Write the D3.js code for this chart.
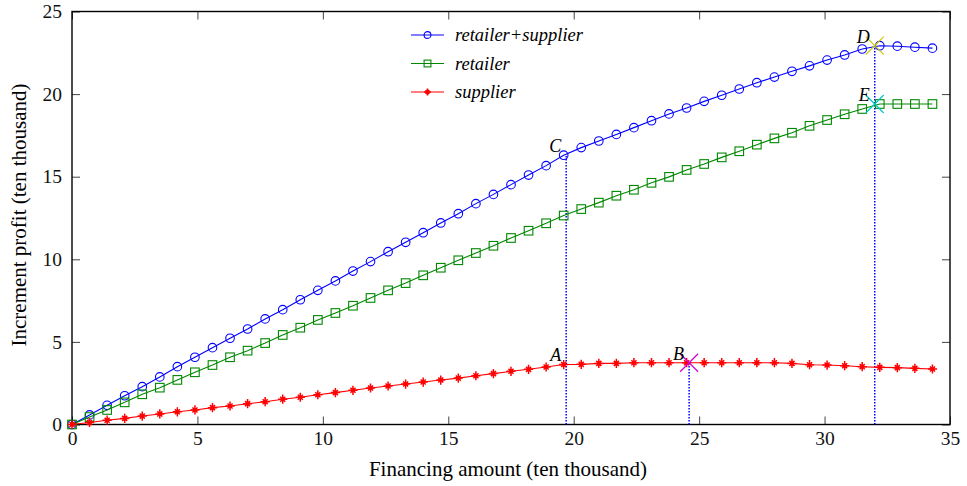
<!DOCTYPE html>
<html>
<head>
<meta charset="utf-8">
<script src="https://cdn.jsdelivr.net/npm/d3@7"></script>
<style>
body { margin: 0; background: #fff; }
text { font-family: "Liberation Serif", "Times New Roman", serif; }
</style>
</head>
<body>
<div id="chart"></div>
<script>
var width = 967,
    height = 486;

// financing amount (ten thousand)
var amount = [0, 0.7, 1.4, 2.1, 2.8, 3.5, 4.2, 4.9, 5.6, 6.3, 7.0, 7.7, 8.4, 9.1, 9.8,
    10.5, 11.2, 11.9, 12.6, 13.3, 14.0, 14.7, 15.4, 16.1, 16.8, 17.5, 18.2, 18.9, 19.6,
    20.3, 21.0, 21.7, 22.4, 23.1, 23.8, 24.5, 25.2, 25.9, 26.6, 27.3, 28.0, 28.7, 29.4,
    30.1, 30.8, 31.5, 32.2, 32.9, 33.6, 34.3];

var both = [0, 0.58, 1.16, 1.74, 2.29, 2.88, 3.50, 4.07, 4.65, 5.22, 5.78, 6.39, 6.95, 7.55, 8.12,
    8.69, 9.29, 9.86, 10.46, 11.03, 11.61, 12.20, 12.76, 13.37, 13.93, 14.52, 15.10, 15.67, 16.30,
    16.76, 17.16, 17.56, 17.97, 18.39, 18.80, 19.16, 19.56, 19.93, 20.31, 20.69, 21.03, 21.38, 21.71,
    22.06, 22.37, 22.73, 22.93, 22.90, 22.84, 22.78];

var retailer = [0, 0.45, 0.88, 1.34, 1.83, 2.23, 2.70, 3.16, 3.60, 4.07, 4.47, 4.93, 5.42, 5.86, 6.33,
    6.75, 7.19, 7.66, 8.12, 8.56, 9.03, 9.49, 9.94, 10.38, 10.82, 11.29, 11.73, 12.18, 12.65,
    13.04, 13.43, 13.85, 14.21, 14.63, 14.99, 15.41, 15.77, 16.17, 16.54, 16.94, 17.32, 17.66, 18.08,
    18.43, 18.78, 19.10, 19.40, 19.40, 19.40, 19.40];

var supplier = [0, 0.12, 0.26, 0.37, 0.51, 0.64, 0.77, 0.88, 1.02, 1.12, 1.26, 1.38, 1.53, 1.65, 1.80,
    1.93, 2.07, 2.21, 2.33, 2.45, 2.57, 2.69, 2.81, 2.95, 3.08, 3.22, 3.34, 3.48, 3.63,
    3.64, 3.70, 3.70, 3.74, 3.74, 3.74, 3.74, 3.74, 3.74, 3.74, 3.74, 3.74, 3.70, 3.62,
    3.60, 3.56, 3.50, 3.46, 3.44, 3.40, 3.36];

// marked points
var pt_names = ["A", "B", "C", "D", "E"];
var pt_x = [19.7, 24.6, 19.7, 32.0, 32.0];
var pt_y = [3.65, 3.74, 16.33, 22.93, 19.40];
var pt_cross = [null, "#d000d0", null, "#c8c800", "#00c8c8"];
var drop_lines = ["C", "B", "D"];

var x_ticks = [0, 5, 10, 15, 20, 25, 30, 35],
    y_ticks = [0, 5, 10, 15, 20, 25];

var series_names = ["retailer+supplier", "retailer", "supplier"];

var plot_left = 72, plot_right = 950, plot_top = 11.5, plot_bottom = 424.5;

var svg = d3.select("#chart").append("svg")
    .attr("width", width)
    .attr("height", height);

var x = d3.scaleLinear().domain([0, 35]).range([plot_left, plot_right]);
var y = d3.scaleLinear().domain([0, 25]).range([plot_bottom, plot_top]);

// axes, ticks pointing inwards on all four sides
function style_axis(g){
    g.select(".domain").remove();
    g.selectAll(".tick line").attr("stroke", "#444").attr("stroke-width", 1);
    g.selectAll(".tick text").attr("fill", "#111").style("font-size", "19.5px");
}
svg.append("g").attr("transform", "translate(0," + plot_bottom + ")")
    .call(d3.axisBottom(x).tickValues(x_ticks).tickSize(-8).tickPadding(7).tickFormat(d3.format("d")))
    .call(style_axis);
svg.append("g").attr("transform", "translate(0," + plot_top + ")")
    .call(d3.axisTop(x).tickValues(x_ticks).tickSize(-8).tickFormat(""))
    .call(style_axis);
svg.append("g").attr("transform", "translate(" + plot_left + ",0)")
    .call(d3.axisLeft(y).tickValues(y_ticks).tickSize(-8).tickPadding(10).tickFormat(d3.format("d")))
    .call(style_axis);
svg.append("g").attr("transform", "translate(" + plot_right + ",0)")
    .call(d3.axisRight(y).tickValues(y_ticks).tickSize(-8).tickFormat(""))
    .call(style_axis);

svg.append("rect")
    .attr("x", plot_left).attr("y", plot_top)
    .attr("width", plot_right - plot_left).attr("height", plot_bottom - plot_top)
    .attr("fill", "none").attr("stroke", "#000").attr("stroke-width", 1.4);

svg.append("text")
    .attr("x", 508).attr("y", 476)
    .attr("text-anchor", "middle")
    .style("font-size", "21px")
    .text("Financing amount (ten thousand)");

svg.append("text")
    .attr("transform", "translate(26,215) rotate(-90)")
    .attr("text-anchor", "middle")
    .style("font-size", "21px")
    .text("Increment profit (ten thousand)");

// dotted drop lines
drop_lines.forEach(function(n){
    var i = pt_names.indexOf(n);
    svg.append("line")
        .attr("x1", x(pt_x[i])).attr("x2", x(pt_x[i]))
        .attr("y1", y(0)).attr("y2", y(pt_y[i]))
        .attr("stroke", "#0000ff").attr("stroke-width", 1.5)
        .attr("stroke-dasharray", "1.5,1.5");
});

var line = d3.line()
    .x(function(d, i){ return x(amount[i]); })
    .y(function(d){ return y(d); });

function circle_marker(g, cx, cy, r){
    g.append("circle").attr("cx", cx).attr("cy", cy).attr("r", r)
        .attr("fill", "none").attr("stroke", "#0000ff").attr("stroke-width", 1.1);
}
function square_marker(g, cx, cy, s){
    g.append("rect").attr("x", cx - s).attr("y", cy - s)
        .attr("width", 2 * s).attr("height", 2 * s)
        .attr("fill", "none").attr("stroke", "#008800").attr("stroke-width", 1.1);
}
function star_marker(g, cx, cy, s){
    var d = "M" + (cx - s) + "," + cy + "H" + (cx + s)
        + "M" + cx + "," + (cy - s) + "V" + (cy + s)
        + "M" + (cx - s * 0.55) + "," + (cy - s * 0.55) + "L" + (cx + s * 0.55) + "," + (cy + s * 0.55)
        + "M" + (cx - s * 0.55) + "," + (cy + s * 0.55) + "L" + (cx + s * 0.55) + "," + (cy - s * 0.55);
    g.append("path").attr("d", d).attr("stroke", "#ff0000").attr("stroke-width", 1.5);
    g.append("circle").attr("cx", cx).attr("cy", cy).attr("r", s * 0.45).attr("fill", "#ff0000");
}

var series = [
    {values: both, color: "#0000ff", marker: circle_marker, size: 4.3},
    {values: retailer, color: "#008800", marker: square_marker, size: 4.3},
    {values: supplier, color: "#ff0000", marker: star_marker, size: 4.6}
];

series.forEach(function(s){
    var g = svg.append("g");
    g.append("path")
        .attr("d", line(s.values))
        .attr("fill", "none")
        .attr("stroke", s.color)
        .attr("stroke-width", 1.1);
    s.values.forEach(function(v, i){
        s.marker(g, x(amount[i]), y(v), s.size);
    });
});

// crosses and letters
pt_names.forEach(function(n, i){
    var cx = x(pt_x[i]), cy = y(pt_y[i]);
    if(pt_cross[i]){
        var r = 9;
        svg.append("path")
            .attr("d", "M" + (cx - r) + "," + (cy - r) + "L" + (cx + r) + "," + (cy + r)
                + "M" + (cx - r) + "," + (cy + r) + "L" + (cx + r) + "," + (cy - r))
            .attr("stroke", pt_cross[i]).attr("stroke-width", 1.2);
    }
    svg.append("text")
        .attr("x", cx - 5).attr("y", cy - 3)
        .attr("text-anchor", "end")
        .style("font-size", "18px").style("font-style", "italic")
        .text(n);
});

// legend
var legend = svg.append("g").attr("transform", "translate(411,35)");
series.forEach(function(s, i){
    var g = legend.append("g").attr("transform", "translate(0," + (i * 28.5) + ")");
    g.append("line").attr("x1", 0).attr("x2", 33).attr("y1", 0).attr("y2", 0)
        .attr("stroke", s.color).attr("stroke-width", 1.1);
    s.marker(g, 16.5, 0, 3.4);
    g.append("text")
        .attr("x", 44).attr("y", 6)
        .style("font-size", "18.5px").style("font-style", "italic")
        .text(series_names[i]);
});
</script>
</body>
</html>
